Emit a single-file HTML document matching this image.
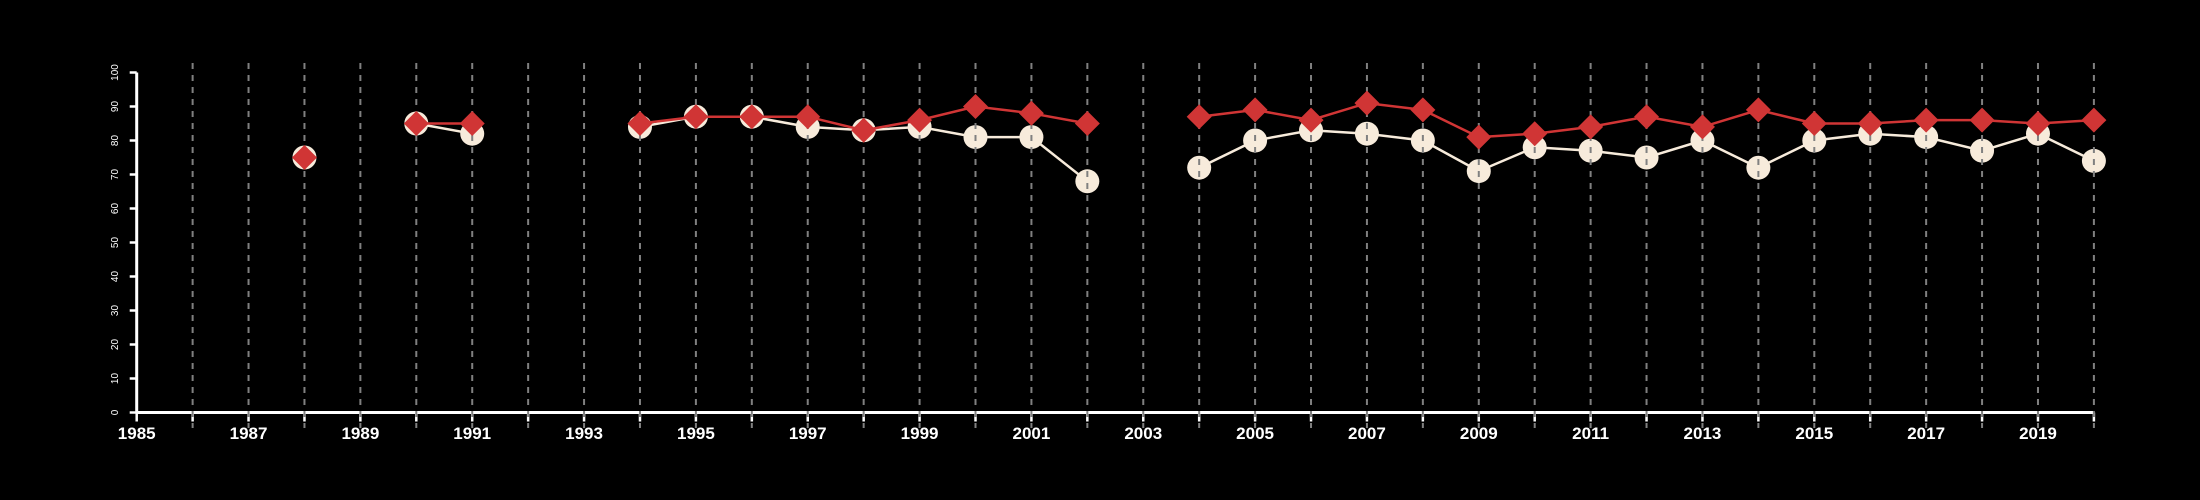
<!DOCTYPE html>
<html><head><meta charset="utf-8"><style>
html,body{margin:0;padding:0;background:#000;}
svg{display:block;font-family:"Liberation Sans",sans-serif;}
</style></head><body>
<svg id="chart" width="2200" height="500" viewBox="0 0 2200 500" xmlns="http://www.w3.org/2000/svg">
<rect width="2200" height="500" fill="#000"/>
</svg>
<script>
const years = [1988,1990,1991,1994,1995,1996,1997,1998,1999,2000,2001,2002,2004,2005,2006,2007,2008,2009,2010,2011,2012,2013,2014,2015,2016,2017,2018,2019,2020];
const whiteValues = [75,85,82,84,87,87,84,83,84,81,81,68,72,80,83,82,80,71,78,77,75,80,72,80,82,81,77,82,74];
const redValues = [75,85,85,85,87,87,87,83,86,90,88,85,87,89,86,91,89,81,82,84,87,84,89,85,85,86,86,85,86];
const yTicks = [0,10,20,30,40,50,60,70,80,90,100];
const xLabels = [1985,1987,1989,1991,1993,1995,1997,1999,2001,2003,2005,2007,2009,2011,2013,2015,2017,2019];

const NS="http://www.w3.org/2000/svg";
const svg=document.getElementById('chart');
const X0=136.7, XS=55.92, Y0=412.5, YS=3.4;
const xs=y=>X0+(y-1985)*XS;
const ys=v=>Y0-v*YS;
function mk(tag,attrs,parent){const e=document.createElementNS(NS,tag);for(const k in attrs)e.setAttribute(k,attrs[k]);(parent||svg).appendChild(e);return e;}

// axes
const ax=mk('g',{});


mk('line',{x1:X0,y1:Y0,x2:xs(2020),y2:Y0,stroke:'#fff','stroke-width':3},ax);
mk('line',{x1:X0,y1:Y0,x2:X0,y2:ys(100),stroke:'#fff','stroke-width':3},ax);
for(let y=1985;y<=2020;y++){
  const t=mk('line',{x1:xs(y),y1:Y0,x2:xs(y),y2:Y0+9,stroke:'#fff','stroke-width':2.5},ax);
  
  
}
xLabels.forEach(l=>{
  const t=mk('text',{x:xs(l),y:439,'text-anchor':'middle','font-size':17,'font-weight':'bold',fill:'#fff'},ax);
  
  
  t.textContent=l;
});
yTicks.forEach(v=>{
  mk('line',{x1:X0-7,y1:ys(v),x2:X0,y2:ys(v),stroke:'#fff','stroke-width':2.5},ax);
  const t=mk('text',{x:0,y:0,'text-anchor':'middle','font-size':10,fill:'#fff',transform:`translate(${118},${ys(v)}) rotate(-90)`},ax);
  
  
  t.textContent=v;
});

function segments(vals){
  const segs=[];let cur=[];
  years.forEach((y,i)=>{
    if(i>0 && y-years[i-1]>1){segs.push(cur);cur=[];}
    cur.push([xs(y),ys(vals[i])]);
  });
  segs.push(cur);return segs;
}
// white series
const wg=mk('g',{});


segments(whiteValues).forEach(s=>{if(s.length>1)mk('polyline',{points:s.map(p=>p.join(',')).join(' '),fill:'none',stroke:'#f7ebdb','stroke-width':2.5},wg);});
years.forEach((y,i)=>{
  const c=mk('circle',{cx:xs(y),cy:ys(whiteValues[i]),r:12,fill:'#f7ebdb'},wg);
  
  
});
// grid
const gg=mk('g',{});


for(let y=1986;y<=2020;y++){
  mk('line',{x1:xs(y),y1:63,x2:xs(y),y2:428,stroke:'#808080','stroke-width':2,'stroke-dasharray':'6,6'},gg);
}
// red series
const rg=mk('g',{});


segments(redValues).forEach(s=>{if(s.length>1)mk('polyline',{points:s.map(p=>p.join(',')).join(' '),fill:'none',stroke:'#d03535','stroke-width':2.5},rg);});
years.forEach((y,i)=>{
  const cx=xs(y),cy=ys(redValues[i]),d=12.5;
  const p=mk('polygon',{points:`${cx},${cy-d} ${cx+d},${cy} ${cx},${cy+d} ${cx-d},${cy}`,fill:'#d03535'},rg);
  
  
});
</script>
</body></html>
